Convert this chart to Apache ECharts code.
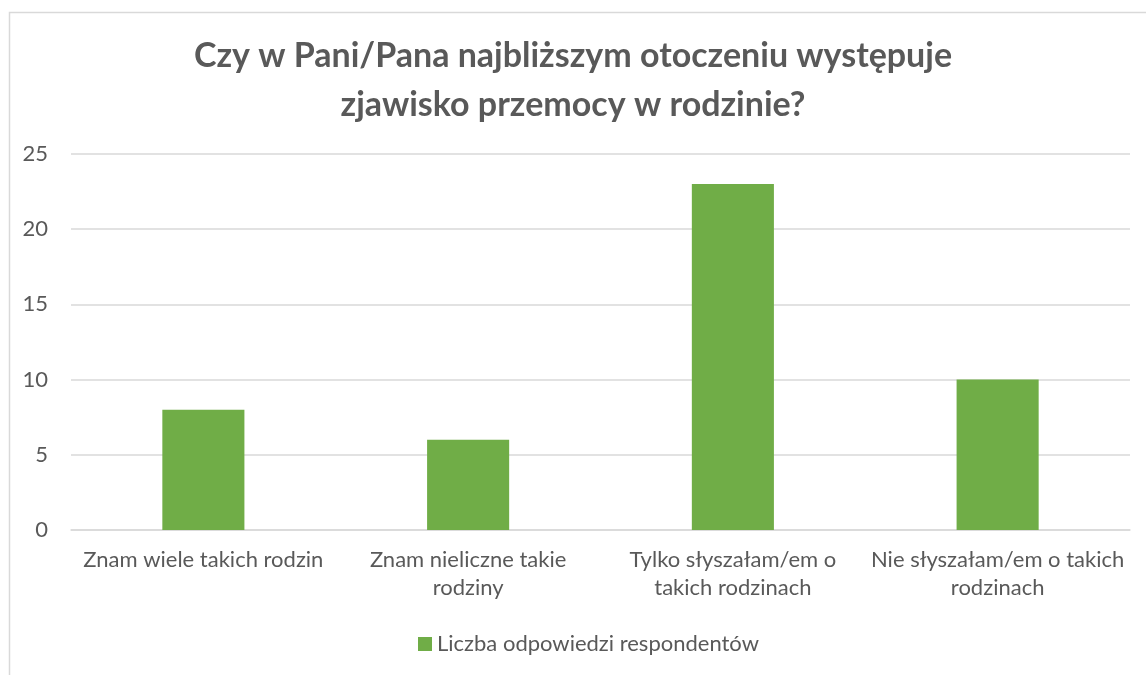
<!DOCTYPE html>
<html>
<head>
<meta charset="utf-8">
<script src="https://cdn.jsdelivr.net/npm/echarts@6/dist/echarts.min.js"></script>
<style>html,body{margin:0;padding:0;background:#fff}#c{width:1146px;height:675px}</style>
</head>
<body>
<div id="c"></div>
<script>
const titleText = 'Czy w Pani/Pana najbliższym otoczeniu występuje\nzjawisko przemocy w rodzinie?';
const categories = ['Znam wiele takich rodzin', 'Znam nieliczne takie\nrodziny', 'Tylko słyszałam/em o\ntakich rodzinach', 'Nie słyszałam/em o takich\nrodzinach'];
const seriesName = 'Liczba odpowiedzi respondentów';
const values = [8, 6, 23, 10];
const yTicks = [0, 5, 10, 15, 20, 25];

const FONT = 'Lato';
const chart = echarts.init(document.getElementById('c'));
chart.setOption({
  backgroundColor: '#fff',
  animation: false,
  graphic: [{
    type: 'rect', left: 7, top: 10, shape: {width: 1160, height: 700},
    style: {fill: 'none', stroke: '#d9d9d9', lineWidth: 1.5}, silent: true
  }],
  title: {
    text: titleText, left: 'center', top: 27,
    textStyle: {fontFamily: FONT, fontWeight: 'bold', fontSize: 34, color: '#595959', lineHeight: 49}
  },
  legend: {
    bottom: 15, left: 413, itemWidth: 14, itemHeight: 14, itemGap: 6,
    textStyle: {fontFamily: FONT, fontSize: 22, color: '#595959'},
    data: [{name: seriesName, icon: 'rect'}]
  },
  grid: {left: 71, right: 16, top: 154, bottom: 145, containLabel: false},
  xAxis: {
    type: 'category', data: categories,
    axisLine: {lineStyle: {color: '#d9d9d9', width: 1.5}},
    axisTick: {show: false},
    axisLabel: {fontFamily: FONT, fontSize: 22, color: '#595959', lineHeight: 28, margin: 16, interval: 0}
  },
  yAxis: {
    type: 'value', min: yTicks[0], max: yTicks[yTicks.length - 1], interval: 5,
    axisLine: {show: false}, axisTick: {show: false},
    splitLine: {lineStyle: {color: '#d9d9d9', width: 1.5}},
    axisLabel: {fontFamily: FONT, fontSize: 22, color: '#595959', margin: 23}
  },
  series: [{
    type: 'bar', name: seriesName, data: values, barWidth: '31%',
    itemStyle: {color: '#70ad47'}
  }]
});
</script>
</body>
</html>
